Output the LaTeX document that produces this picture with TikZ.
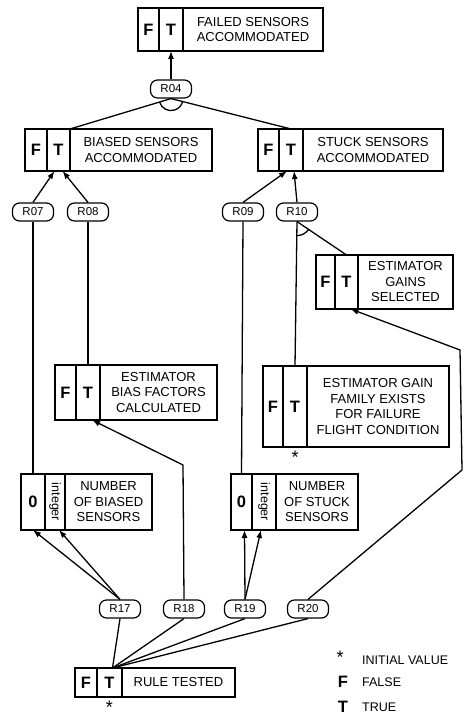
\documentclass[tikz,border=0pt]{standalone}
\usepackage{fontspec}
\setmainfont{Liberation Sans}
\usetikzlibrary{arrows.meta,positioning}

\begin{document}
\begin{tikzpicture}[x=1pt, y=1pt,
  ftcell/.style={rectangle, draw, line width=1.2pt, outer sep=0pt, inner sep=0pt,
    font=\fontsize{16.5}{16.5}\selectfont\bfseries},
  lblcell/.style={ftcell, align=center, font=\fontsize{13}{15.5}\selectfont},
  rulenode/.style={rectangle, rounded corners=7pt, draw, line width=1.2pt,
    minimum width=41pt, minimum height=18pt, inner sep=0pt, font=\fontsize{11.5}{11.5}\selectfont},
  intlbl/.style={rotate=-90, inner sep=0pt, font=\fontsize{12.5}{12.5}\selectfont},
  starmark/.style={inner sep=0pt, font=\fontsize{18}{18}\selectfont},
  legtxt/.style={anchor=west, inner sep=0pt, font=\fontsize{12.5}{12.5}\selectfont},
  arr/.style={-{Latex[length=8pt,width=6pt]}, line width=1.3pt},
  lnk/.style={line width=1.3pt}
]
\useasboundingbox (0,0) rectangle (466,719);

% top goal
\node[ftcell, minimum width=21pt, minimum height=43pt, anchor=west] (failF) at (138,689.5) {F};
\node[ftcell, minimum width=24pt, minimum height=43pt, right=0pt of failF] (failT) {T};
\node[lblcell, minimum width=140pt, minimum height=43pt, right=0pt of failT] (fail) {FAILED SENSORS\\ACCOMMODATED};

\node[rulenode] (r04) at (171,630) {R04};

% second level
\node[ftcell, minimum width=22pt, minimum height=42pt, anchor=west] (biasF) at (25,569) {F};
\node[ftcell, minimum width=23pt, minimum height=42pt, right=0pt of biasF] (biasT) {T};
\node[lblcell, minimum width=142pt, minimum height=42pt, right=0pt of biasT] (bias) {BIASED SENSORS\\ACCOMMODATED};

\node[ftcell, minimum width=21pt, minimum height=42pt, anchor=west] (stuckF) at (258,569) {F};
\node[ftcell, minimum width=24pt, minimum height=42pt, right=0pt of stuckF] (stuckT) {T};
\node[lblcell, minimum width=140pt, minimum height=42pt, right=0pt of stuckT] (stuck) {STUCK SENSORS\\ACCOMMODATED};

\node[rulenode] (r07) at (33,507) {R07};
\node[rulenode] (r08) at (88,507) {R08};
\node[rulenode] (r09) at (243,507) {R09};
\node[rulenode] (r10) at (297,507) {R10};

% estimator facts
\node[ftcell, minimum width=19pt, minimum height=54pt, anchor=west] (gainF) at (316,437) {F};
\node[ftcell, minimum width=23pt, minimum height=54pt, right=0pt of gainF] (gainT) {T};
\node[lblcell, minimum width=95pt, minimum height=54pt, right=0pt of gainT] (gain) {ESTIMATOR\\GAINS\\SELECTED};

\node[ftcell, minimum width=21pt, minimum height=55pt, anchor=west] (bfF) at (55,326.5) {F};
\node[ftcell, minimum width=24pt, minimum height=55pt, right=0pt of bfF] (bfT) {T};
\node[lblcell, minimum width=117pt, minimum height=55pt, right=0pt of bfT] (bf) {ESTIMATOR\\BIAS FACTORS\\CALCULATED};

\node[ftcell, minimum width=20pt, minimum height=81pt, anchor=west] (famF) at (263,312.5) {F};
\node[ftcell, minimum width=24pt, minimum height=81pt, right=0pt of famF] (famT) {T};
\node[lblcell, minimum width=142pt, minimum height=81pt, right=0pt of famT] (fam) {ESTIMATOR GAIN\\FAMILY EXISTS\\FOR FAILURE\\FLIGHT CONDITION};
\node[starmark, anchor=north] (famStar) at ([yshift=-4pt]famT.south) {*};

% counters
\node[ftcell, minimum width=24pt, minimum height=56pt, anchor=west] (nbZ) at (21,217) {0};
\node[ftcell, minimum width=20pt, minimum height=56pt, right=0pt of nbZ] (nbI) {};
\node[intlbl] (nbItxt) at (nbI) {integer};
\node[lblcell, minimum width=87pt, minimum height=56pt, right=0pt of nbI] (nb) {NUMBER\\OF BIASED\\SENSORS};

\node[ftcell, minimum width=21pt, minimum height=56pt, anchor=west] (nsZ) at (231,217) {0};
\node[ftcell, minimum width=24pt, minimum height=56pt, right=0pt of nsZ] (nsI) {};
\node[intlbl] (nsItxt) at (nsI) {integer};
\node[lblcell, minimum width=82pt, minimum height=56pt, right=0pt of nsI] (ns) {NUMBER\\OF STUCK\\SENSORS};

\node[rulenode] (r17) at (120,110) {R17};
\node[rulenode] (r18) at (184,110) {R18};
\node[rulenode] (r19) at (245,110) {R19};
\node[rulenode] (r20) at (308,110) {R20};

% start
\node[ftcell, minimum width=22pt, minimum height=29pt, anchor=west] (ruleF) at (75,36.5) {F};
\node[ftcell, minimum width=25pt, minimum height=29pt, right=0pt of ruleF] (ruleT) {T};
\node[lblcell, minimum width=113pt, minimum height=29pt, right=0pt of ruleT] (rule) {RULE TESTED};
\node[starmark, anchor=north] (ruleStar) at ([yshift=-4pt]ruleT.south) {*};

% legend
\node[starmark] (legS) at (340,62) {*};
\node[legtxt] (legStxt) at (362,59) {INITIAL VALUE};
\node[ftcell, draw=none] (legF) at (343,37) {F};
\node[legtxt] (legFtxt) at (362,37) {FALSE};
\node[ftcell, draw=none] (legT) at (343,12) {T};
\node[legtxt] (legTtxt) at (362,12) {TRUE};

% bend points
\coordinate (k18) at (183,254);
\coordinate (k20a) at (462,249);
\coordinate (k20b) at (460,369);

% connectors
\draw[arr] (r04.north) -- (failT.south);
\draw[lnk] (r04.south) -- (biasT.north east);
\draw[lnk] (r04.south) -- (stuckT.north);
\draw[lnk] ([shift={(197.6:12pt)}]r04.south) arc[start angle=197.6, end angle=345.1, radius=12pt];

\draw[arr] (r07.north) -- ([xshift=-4pt]biasT.south);
\draw[arr] (r08.north) -- ([xshift=4pt]biasT.south);
\draw[arr] (r09.north) -- ([xshift=-4pt]stuckT.south);
\draw[arr] (r10.north) -- ([xshift=3pt]stuckT.south);

\draw[lnk] (r07.south) -- (nbZ.north);
\draw[lnk] (r08.south) -- (bfT.north);
\draw[lnk] (r09.south) -- (nsZ.north);
\draw[lnk] (r10.south) -- (famT.north);
\draw[lnk] (r10.south) -- (gainT.north);
\draw[lnk] ([shift={(270:14pt)}]r10.south) arc[start angle=270, end angle=326, radius=14pt];

\draw[arr] (r17.north) -- (nbZ.south);
\draw[arr] (r17.north) -- ([xshift=4pt]nbI.south);
\draw[arr] (r18.north) -- (k18) -- ([xshift=4pt]bfT.south);
\draw[arr] (r19.north) -- ([xshift=3pt]nsZ.south);
\draw[arr] (r19.north) -- ([xshift=-3pt]nsI.south);
\draw[arr] (r20.north) -- (k20a) -- (k20b) -- ([xshift=4pt]gainT.south);

\draw[lnk] ([xshift=3pt]ruleT.north) -- (r17.south);
\draw[lnk] ([xshift=3pt]ruleT.north) -- (r18.south);
\draw[lnk] ([xshift=3pt]ruleT.north) -- (r19.south);
\draw[lnk] ([xshift=3pt]ruleT.north) -- (r20.south);
\end{tikzpicture}
\end{document}
